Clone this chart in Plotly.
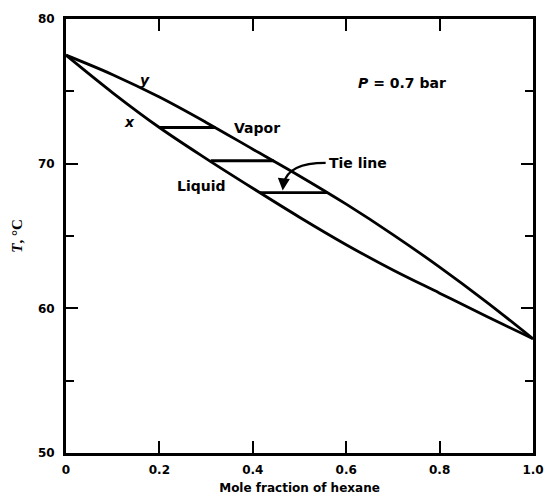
import plotly.graph_objects as go

# Liquid (bubble-point) curve: x vs T
x_liq = [0.0, 0.1, 0.2, 0.3, 0.4, 0.5, 0.6, 0.7, 0.8, 0.9, 1.0]
T_liq = [77.5, 74.9, 72.5, 70.35, 68.3, 66.3, 64.4, 62.65, 61.05, 59.45, 57.9]

# Vapor (dew-point) curve: y vs T
y_vap = [0.0, 0.1, 0.2, 0.3, 0.4, 0.5, 0.6, 0.7, 0.8, 0.9, 1.0]
T_vap = [77.5, 76.15, 74.6, 72.85, 71.0, 69.15, 67.2, 65.1, 62.85, 60.45, 57.9]

# Tie lines
tie_T = [72.5, 70.2, 68.0]
tie_x = [0.20, 0.31, 0.415]
tie_y = [0.32, 0.445, 0.56]

x_ticks = [0, 0.2, 0.4, 0.6, 0.8, 1.0]
x_ticklabels = ["0", "0.2", "0.4", "0.6", "0.8", "1.0"]
y_ticks = [50, 60, 70, 80]

LW = 2.8
FAM = "DejaVu Sans, sans-serif"
tick_font = dict(family=FAM, size=12, color="black", weight="bold")
label_font = dict(family=FAM, size=14, color="black", weight="bold")

fig = go.Figure()
fig.add_trace(go.Scatter(x=x_liq, y=T_liq, mode="lines", line=dict(color="black", width=LW, shape="spline"),
                         showlegend=False, hoverinfo="skip"))
fig.add_trace(go.Scatter(x=y_vap, y=T_vap, mode="lines", line=dict(color="black", width=LW, shape="spline"),
                         showlegend=False, hoverinfo="skip"))
for T, xa, ya in zip(tie_T, tie_x, tie_y):
    fig.add_trace(go.Scatter(x=[xa, ya], y=[T, T], mode="lines", line=dict(color="black", width=LW),
                             showlegend=False, hoverinfo="skip"))

# curved pointer for "Tie line"
fig.add_shape(type="path", path="M 0.556,70.05 Q 0.475,70.05 0.466,68.6",
              xref="x", yref="y", line=dict(color="black", width=2.2))
fig.add_annotation(x=0.464, y=68.15, ax=0.466, ay=68.8, xref="x", yref="y", axref="x", ayref="y",
                   text="", showarrow=True, arrowhead=2, arrowsize=1.1, arrowwidth=2.2, arrowcolor="black")

texts = [
    dict(x=0.17, y=75.8, text="<i>y</i>"),
    dict(x=0.137, y=72.9, text="<i>x</i>"),
    dict(x=0.41, y=72.5, text="Vapor"),
    dict(x=0.29, y=68.45, text="Liquid"),
    dict(x=0.72, y=75.6, text="<i>P</i> = 0.7 bar"),
]
for t in texts:
    fig.add_annotation(x=t["x"], y=t["y"], xref="x", yref="y", text=t["text"], showarrow=False,
                       font=label_font)
fig.add_annotation(x=0.558, y=70.05, xref="x", yref="y", text="Tie line", showarrow=False, xanchor="left",
                   font=label_font)

axis_common = dict(showline=True, linecolor="black", linewidth=2.8, mirror="ticks", ticks="inside",
                   tickcolor="black", tickwidth=2, ticklen=12, showgrid=False, zeroline=False,
                   tickfont=tick_font, automargin=False)
fig.update_xaxes(range=[0, 1.0], tickvals=x_ticks, ticktext=x_ticklabels, ticklabelstandoff=4,
                 title=dict(text="Mole fraction of hexane", font=dict(family=FAM, size=12, color="black",
                                                                    weight="bold"), standoff=8),
                 **axis_common)
fig.update_yaxes(range=[50, 80], tickvals=y_ticks, ticklabelstandoff=6,
                 minor=dict(tickvals=[55, 65, 75], ticks="inside", ticklen=8, tickwidth=2, tickcolor="black"),
                 title=dict(text="<i>T</i>, °C", font=dict(family="Liberation Serif, Times New Roman, serif",
                                                          size=15, color="black", weight="bold"), standoff=12),
                 **axis_common)
fig.update_layout(width=550, height=496, margin=dict(l=66, r=17, t=19, b=43),
                  plot_bgcolor="white", paper_bgcolor="white")
fig.write_html("out.html")
